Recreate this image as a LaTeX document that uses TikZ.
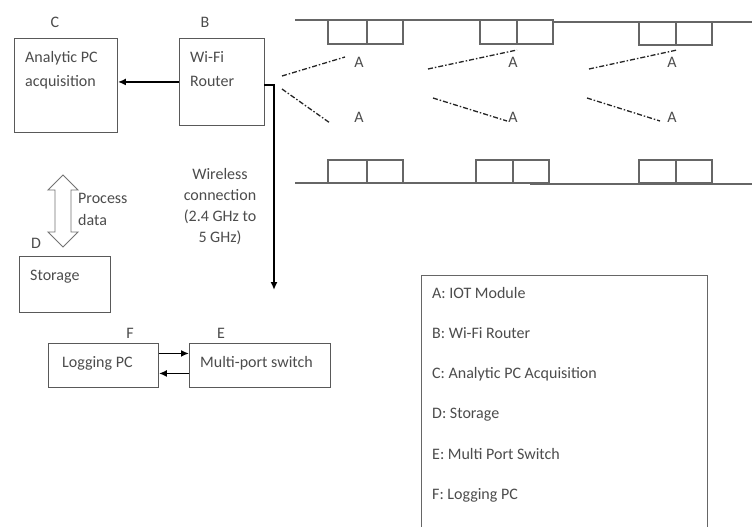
\documentclass[tikz,border=0pt]{standalone}
\usepackage{fontspec}
\setmainfont{Carlito}
\usetikzlibrary{arrows.meta}
\begin{document}
\begin{tikzpicture}[x=1pt,y=-1pt,
  box/.style={draw=black!65, line width=0.9pt, rectangle, inner sep=0pt, anchor=north west},
  txt/.style={font=\fontsize{16}{22}\selectfont, text=black!70, align=left, inner sep=0pt, anchor=base west},
  lbl/.style={font=\fontsize{16}{18}\selectfont, text=black!70, inner sep=0pt, anchor=base},
  arr/.style={line width=1.8pt, -{Latex[length=8pt,width=7pt]}},
  wall/.style={draw=black!60, line width=1.2pt},
  link/.style={black!85, line width=1.3pt, dash pattern=on 5pt off 2pt on 1.5pt off 2pt}]
\clip (0,0) rectangle (752,527);
\fill[white] (0,0) rectangle (752,527);

% C box
\node[box, minimum width=103, minimum height=94] (C) at (14,38) {};
\node[lbl] (Cl) at (55,28) {C};
\node[txt] (Ct1) at (25,63) {Analytic PC};
\node[txt] (Ct2) at (25,86) {acquisition};

% B box
\node[box, minimum width=85, minimum height=87] (B) at (179,38) {};
\node[lbl] (Bl) at (205,28) {B};
\node[txt] (Bt1) at (190,63) {Wi-Fi};
\node[txt] (Bt2) at (190,86) {Router};

\draw[arr] (B.west) -- (B.west -| C.east);

% wireless link down
\coordinate (Bout) at (264,85);
\coordinate (Bcorner) at (274,85);
\coordinate (Wend) at (274,290);
\draw[arr] (Bout) -- (Bcorner) -- (Wend);
\node[font=\fontsize{16}{21}\selectfont, text=black!70, align=center, inner sep=0pt, anchor=base] (W) at (220,242)
  {Wireless\\connection\\(2.4 GHz to\\5 GHz)};

% process data double arrow
\draw[draw=black!55, line width=0.9pt, fill=white]
  (63,175) -- (78,190) -- (71,190) -- (71,232) -- (78,232) -- (63,247)
  -- (48,232) -- (55,232) -- (55,190) -- (48,190) -- cycle;
\node[txt] (Pd) at (78,225) {Process\\data};

% D box
\node[lbl] (Dl) at (36,248) {D};
\node[box, minimum width=91, minimum height=56] (D) at (19,256) {};
\node[txt] (Dt) at (30,280) {Storage};

% F and E boxes
\node[lbl] (Fl) at (130,338) {F};
\node[lbl] (El) at (221,338) {E};
\node[box, minimum width=110, minimum height=44] (F) at (48,343) {};
\node[box, minimum width=141, minimum height=44] (E) at (189,343) {};
\node[txt] (Ft) at (62,367) {Logging PC};
\node[txt] (Et) at (200,367) {Multi-port switch};
\draw[arr] ([yshift=12pt]F.east) -- ([yshift=12pt]F.east -| E.west);
\draw[arr] ([yshift=-8pt]E.west) -- ([yshift=-8pt]E.west -| F.east);

% corridor walls
\draw[wall] (295,20) -- (553,20);
\draw[wall] (553,22) -- (752,22);
\draw[wall] (295,183) -- (550,183);
\draw[wall] (530,184) -- (752,184);
% top rooms
\draw[wall] (328,20) rectangle (403,44); \draw[wall] (367,20) -- (367,44);
\draw[wall] (480,20) rectangle (553,44); \draw[wall] (517,20) -- (517,44);
\draw[wall] (639,22) rectangle (712,45); \draw[wall] (676,22) -- (676,45);
% bottom rooms
\draw[wall] (328,160) rectangle (403,183); \draw[wall] (367,160) -- (367,183);
\draw[wall] (476,160) rectangle (549,183); \draw[wall] (513,160) -- (513,183);
\draw[wall] (639,160) rectangle (712,183); \draw[wall] (676,160) -- (676,183);

% IoT modules
\foreach \n/\x in {1/359,2/513,3/672} {
  \node[lbl] (At\n) at (\x,67) {A};
  \node[lbl] (Ab\n) at (\x,122) {A};
}
\coordinate (r1s) at (282,76);  \coordinate (r1e) at (345,57);
\coordinate (r2s) at (282,89);  \coordinate (r2e) at (330,123);
\coordinate (t2s) at (428,69);  \coordinate (t2e) at (517,50);
\coordinate (t3s) at (589,69);  \coordinate (t3e) at (677,50);
\coordinate (b2s) at (433,98);  \coordinate (b2e) at (507,121);
\coordinate (b3s) at (587,98);  \coordinate (b3e) at (660,121);
\draw[link] (r1s) -- (r1e);
\draw[link] (r2s) -- (r2e);
\draw[link] (t2s) -- (t2e);
\draw[link] (t3s) -- (t3e);
\draw[link] (b2s) -- (b2e);
\draw[link] (b3s) -- (b3e);

% legend
\node[box, draw=black!60, minimum width=286, minimum height=280] (L) at (421,275) {};
\node[txt] (L1) at (432,298) {A: IOT Module};
\node[txt] (L2) at (432,338) {B: Wi-Fi Router};
\node[txt] (L3) at (432,378) {C: Analytic PC Acquisition};
\node[txt] (L4) at (432,418) {D: Storage};
\node[txt] (L5) at (432,459) {E: Multi Port Switch};
\node[txt] (L6) at (432,499) {F: Logging PC};
\end{tikzpicture}
\end{document}
